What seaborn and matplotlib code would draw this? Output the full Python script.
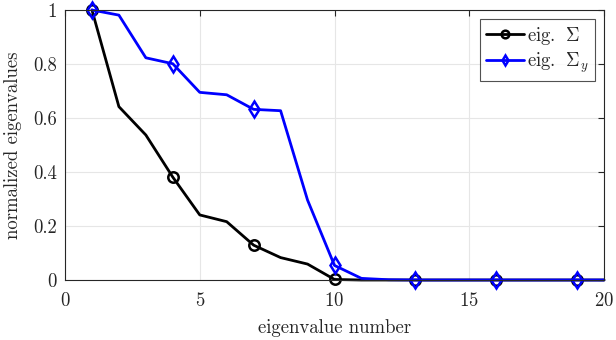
import numpy as np
import pandas as pd
import matplotlib
matplotlib.use("Agg")
import matplotlib.pyplot as plt
import seaborn as sns

# eigenvalue index 1..20
eig_number = list(range(1, 21))
eig_sigma = [1.0, 0.642, 0.537, 0.381, 0.241, 0.216, 0.129, 0.083, 0.059, 0.002,
             0.0, 0.0, 0.0, 0.0, 0.0, 0.0, 0.0, 0.0, 0.0, 0.0]
eig_sigma_y = [1.0, 0.981, 0.823, 0.801, 0.695, 0.686, 0.632, 0.627, 0.296, 0.054,
               0.006, 0.001, 0.0, 0.0, 0.0, 0.0, 0.0, 0.0, 0.0, 0.0]

sns.set_style("white")
plt.rcParams['font.family'] = 'serif'
plt.rcParams['font.serif'] = ['cmr10', 'DejaVu Serif']
plt.rcParams['mathtext.fontset'] = 'cm'
plt.rcParams['axes.formatter.use_mathtext'] = True

fig = plt.figure(figsize=(6.16, 3.4), dpi=100)
ax = fig.add_axes([65 / 616, 60 / 340, 539 / 616, 270 / 340])

sns.lineplot(x=eig_number, y=eig_sigma, ax=ax, color='black', lw=2,
             marker='o', markevery=3, ms=7.5, mfc='none', mec='black', mew=1.8,
             clip_on=False, label=r'eig. $\;\Sigma$')
sns.lineplot(x=eig_number, y=eig_sigma_y, ax=ax, color='#0000ff', lw=2,
             marker='d', markevery=3, ms=8.5, mfc='none', mec='#0000ff', mew=1.8,
             clip_on=False, label=r'eig. $\;\Sigma_y$')

ax.set_xlim(0, 20)
ax.set_ylim(0, 1)
ax.set_xticks([0, 5, 10, 15, 20])
ax.set_yticks([0, 0.2, 0.4, 0.6, 0.8, 1])
ax.set_yticklabels(['0', '0.2', '0.4', '0.6', '0.8', '1'])
ax.grid(True, color='#e6e6e6', lw=0.8)
ax.set_axisbelow(True)
for s in ax.spines.values():
    s.set_color('#262626')
    s.set_linewidth(0.8)
ax.tick_params(direction='in', length=4, top=True, right=True, labelsize=13.5,
               color='#262626', labelcolor='#262626')
ax.tick_params(axis='x', pad=9)
ax.tick_params(axis='y', pad=6)
ax.set_xlabel('eigenvalue number', fontsize=13.5, color='#262626', labelpad=6)
ax.set_ylabel('normalized eigenvalues', fontsize=13.5, color='#262626', labelpad=8)

leg = ax.legend(loc='upper right', fontsize=13.5, frameon=True, fancybox=False,
                edgecolor='#262626', handlelength=2.0, handletextpad=0.2,
                borderaxespad=0.5, labelspacing=0.2, borderpad=0.3)
leg.get_frame().set_linewidth(0.8)
for h in leg.legend_handles:
    h.set_markersize(5.5)

fig.savefig('out.png', dpi=100)
